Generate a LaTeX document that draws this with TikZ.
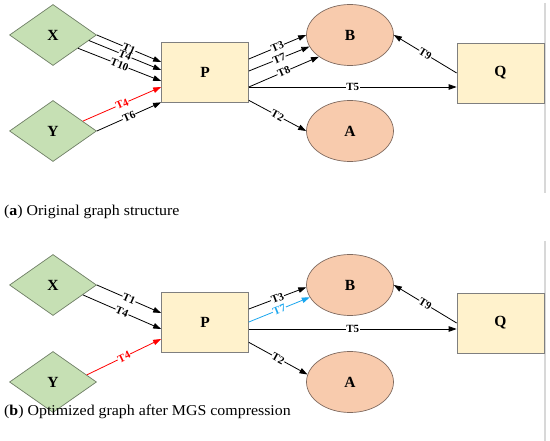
\documentclass[tikz,border=0pt]{standalone}
\usepackage{fontspec}
\setmainfont{Liberation Serif}
\newfontfamily\capfont{Liberation Serif}[FakeStretch=1.06]
\usetikzlibrary{shapes.geometric,arrows.meta,calc}
\definecolor{dfill}{HTML}{C6E0B4}
\definecolor{ddraw}{HTML}{6F7F66}
\definecolor{rfill}{HTML}{FFF2CC}
\definecolor{rdraw}{HTML}{7F7F7F}
\definecolor{efill}{HTML}{F8CBAD}
\definecolor{edraw}{HTML}{7F6A5F}
\definecolor{cyanline}{HTML}{1AA6EE}
\definecolor{sidegray}{HTML}{D8D8D8}
\begin{document}
\begin{tikzpicture}[x=1pt,y=-1pt,
  nfont/.style={font=\fontsize{15.5}{15.5}\selectfont\bfseries},
  dnode/.style={diamond,draw=ddraw,fill=dfill,line width=0.7pt,minimum width=87pt,minimum height=61pt,inner sep=0pt,nfont},
  rnode/.style={rectangle,draw=rdraw,fill=rfill,line width=0.7pt,minimum width=87pt,minimum height=60pt,inner sep=0pt,nfont},
  enode/.style={ellipse,draw=edraw,fill=efill,line width=0.7pt,minimum width=87pt,minimum height=61pt,inner sep=0pt,nfont},
  conn/.style={draw,line width=0.8pt,-{Triangle[length=8pt,width=5.5pt]}},
  lab/.style={midway,sloped,fill=white,inner sep=0.5pt,font=\fontsize{11}{11}\selectfont\bfseries},
  captext/.style={anchor=base west,inner sep=0pt,font=\capfont\fontsize{15}{15}\selectfont}
]
\useasboundingbox (0,0) rectangle (550,441);
% side rule
\draw[sidegray,line width=1.2pt] (545,3) -- (545,193);
\draw[sidegray,line width=1.2pt] (545,241) -- (545,441);

% ---------- panel a ----------
\node[dnode] (Xa) at (53,35) {X};
\node[dnode] (Ya) at (53,131) {Y};
\node[rnode] (Pa) at (205,72) {P};
\node[enode] (Ba) at (350,35) {B};
\node[enode] (Aa) at (350,131) {A};
\node[rnode] (Qa) at (500.5,73) {Q};

\draw[conn] (Xa.east) -- node[lab]{T1} ([yshift=10pt]Pa.west);
\draw[conn] ($(Xa.east)!0.18!(Xa.south)$) -- node[lab]{T4} ([yshift=2pt]Pa.west);
\draw[conn] ($(Xa.east)!0.43!(Xa.south)$) -- node[lab]{T10} ([yshift=-9pt]Pa.west);
\draw[conn,red] ($(Ya.east)!0.32!(Ya.north)$) -- node[lab,text=red]{T4} ([yshift=-15pt]Pa.west);
\draw[conn] (Ya.east) -- node[lab]{T6} (Pa.south west);
\draw[conn] ([yshift=13pt]Pa.east) -- node[lab]{T3} (Ba.west);
\draw[conn] ([yshift=1pt]Pa.east) -- node[lab]{T7} (Ba.196);
\draw[conn] ([yshift=-15pt]Pa.east) -- node[lab]{T8} (Ba.215);
\draw[conn] ([yshift=-15pt]Pa.east) -- node[lab]{T5} ([yshift=-14pt]Qa.west);
\draw[conn] (Qa.west) -- node[lab]{T9} (Ba.east);
\draw[conn] ([yshift=2pt]Pa.south east) -- node[lab]{T2} (Aa.west);

\node[captext] (capa) at (4,216) {(\textbf{a}) Original graph structure};

% ---------- panel b ----------
\node[dnode] (Xb) at (53,285) {X};
\node[dnode] (Yb) at (53,382) {Y};
\node[rnode] (Pb) at (205,322) {P};
\node[enode] (Bb) at (350,285) {B};
\node[enode] (Ab) at (350,382) {A};
\node[rnode] (Qb) at (500.5,323) {Q};

\draw[conn] (Xb.east) -- node[lab]{T1} ([yshift=9pt]Pb.west);
\draw[conn] ($(Xb.east)!0.32!(Xb.south)$) -- node[lab]{T4} ([yshift=-7pt]Pb.west);
\draw[conn,red] ($(Yb.east)!0.23!(Yb.north)$) -- node[lab,text=red]{T4} ([yshift=-17pt]Pb.west);
\draw[conn] ([yshift=13pt]Pb.east) -- node[lab]{T3} (Bb.183);
\draw[conn,cyanline] (Pb.east) -- node[lab,text=cyanline]{T7} (Bb.197);
\draw[conn] ([yshift=-7pt]Pb.east) -- node[lab]{T5} ([yshift=-6pt]Qb.west);
\draw[conn] (Qb.west) -- node[lab]{T9} (Bb.east);
\draw[conn] ([yshift=10pt]Pb.south east) -- node[lab]{T2} (Ab.170);

\node[captext] (capb) at (4,416) {(\textbf{b}) Optimized graph after MGS compression};
\end{tikzpicture}
\end{document}
